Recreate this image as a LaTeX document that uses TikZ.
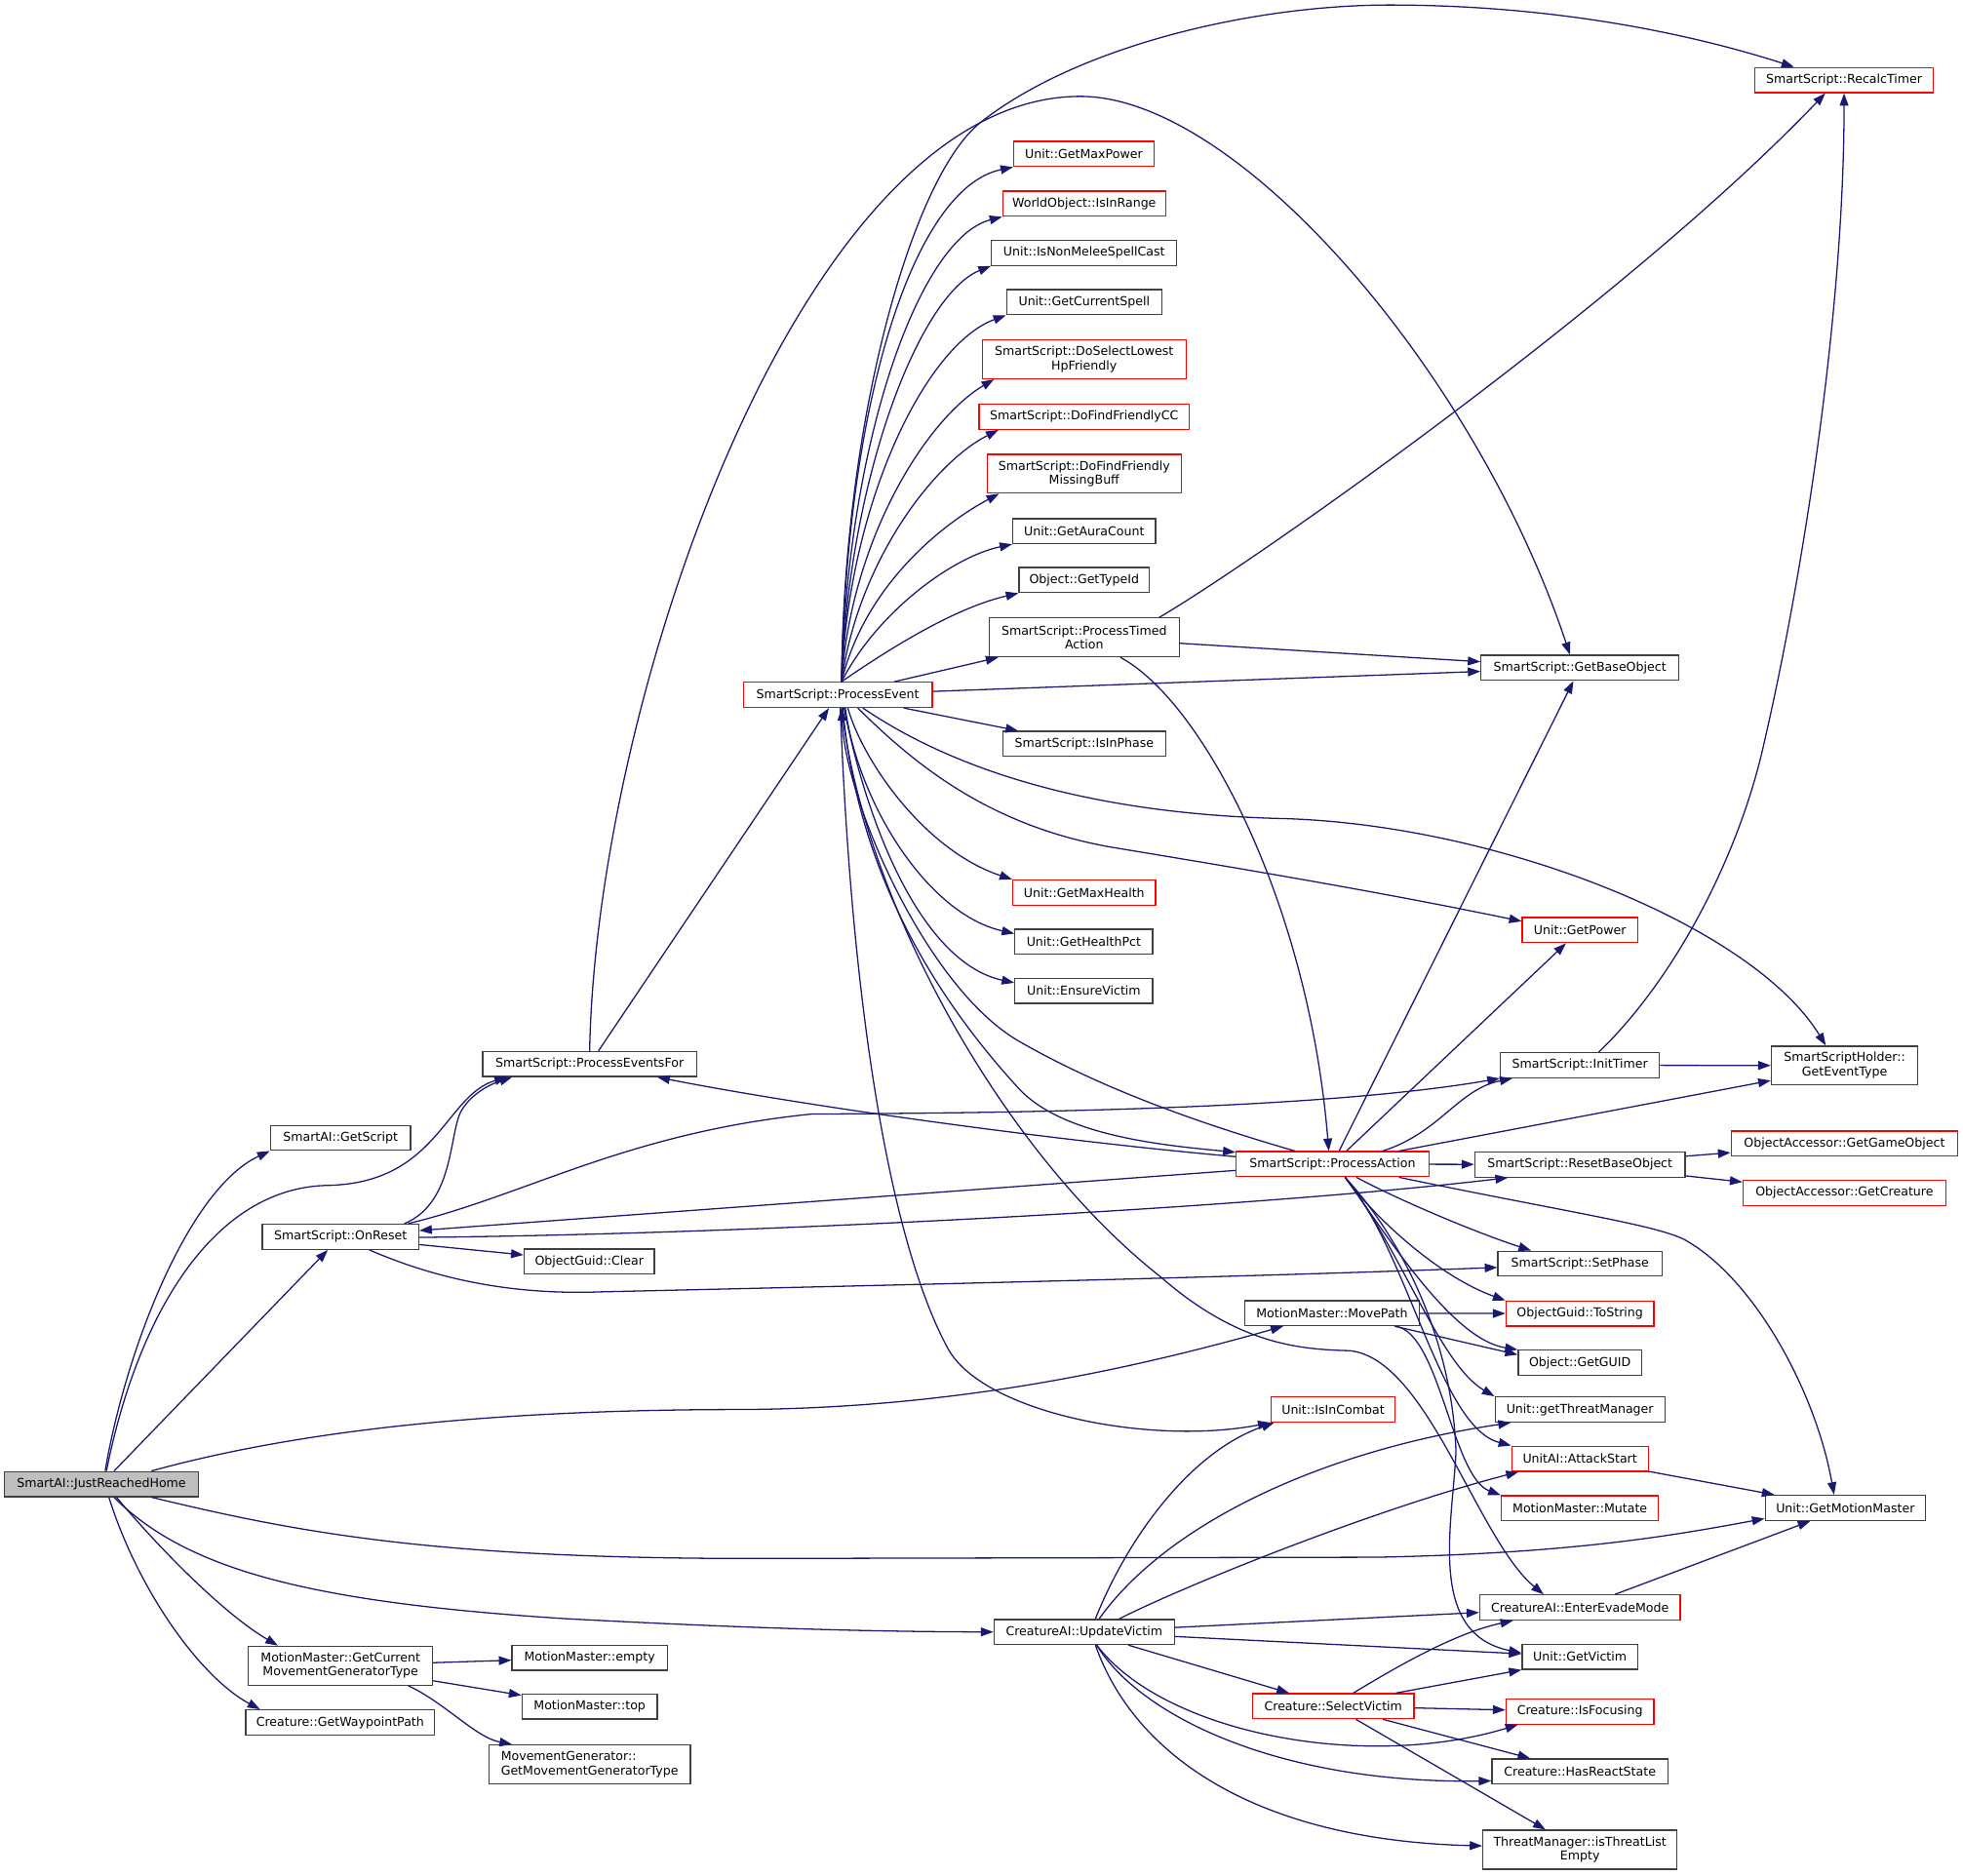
\documentclass[tikz,border=0pt]{standalone}
\usepackage{fontspec}
\setmainfont{DejaVu Sans}
\usetikzlibrary{arrows.meta}

\definecolor{callblue}{HTML}{191970}
\definecolor{rootgray}{HTML}{BFBFBF}

\tikzset{
  fn/.style={draw=black!75, line width=1pt, minimum height=20pt, inner sep=0pt,
    align=center, font=\fontsize{9.8}{11.3}\selectfont},
  fnred/.style={fn, draw=red},
  fnroot/.style={fn, fill=rootgray},
  call/.style={draw=callblue, line width=1pt, -{Triangle[length=10pt,width=7pt]}},
}

\begin{document}
\begin{tikzpicture}[x=1pt, y=-1pt]
    \useasboundingbox (0,0) rectangle (1568,1498);

    % caller and first column
    \node[fnroot, minimum width=155pt] (root) at (81,1185.6) {SmartAI::JustReachedHome};
    \node[fn, minimum width=112pt] (gs) at (272,909) {SmartAI::GetScript};
    \node[fn, minimum width=125pt] (onr) at (272,988) {SmartScript::OnReset};
    \node[fn, minimum width=147pt, minimum height=31pt] (gcm) at (272,1330.6) {MotionMaster::GetCurrent\\MovementGeneratorType};
    \node[fn, minimum width=151pt] (gwp) at (271.7,1376) {Creature::GetWaypointPath};

    % second column
    \node[fn, minimum width=171pt] (pef) at (471,850) {SmartScript::ProcessEventsFor};
    \node[fn, minimum width=104pt] (clr) at (470.7,1007.7) {ObjectGuid::Clear};
    \node[fn, minimum width=124pt] (emp) at (471,1324.3) {MotionMaster::empty};
    \node[fn, minimum width=108pt] (mtop) at (471,1363.2) {MotionMaster::top};
    \node[fn, minimum width=161pt, minimum height=31pt, align=left] (gmgt) at (471,1409.5) {MovementGenerator::\\GetMovementGeneratorType};

    % the event
    \node[fnred, minimum width=151pt] (pe) at (669.2,555.1) {SmartScript::ProcessEvent};

    % fourth column
    \node[fnred, minimum width=112pt] (gmp) at (865.7,123) {Unit::GetMaxPower};
    \node[fnred, minimum width=130pt] (iir) at (866,162.7) {WorldObject::IsInRange};
    \node[fn, minimum width=148pt] (inm) at (866,202) {Unit::IsNonMeleeSpellCast};
    \node[fn, minimum width=124pt] (gcs) at (866,241.4) {Unit::GetCurrentSpell};
    \node[fnred, minimum width=163pt, minimum height=31pt] (dsl) at (866,287) {SmartScript::DoSelectLowest\\HpFriendly};
    \node[fnred, minimum width=168pt] (dfc) at (866,333) {SmartScript::DoFindFriendlyCC};
    \node[fnred, minimum width=155pt, minimum height=31pt] (dfm) at (866,378.4) {SmartScript::DoFindFriendly\\MissingBuff};
    \node[fn, minimum width=114pt] (gac) at (866,424.3) {Unit::GetAuraCount};
    \node[fn, minimum width=104pt] (gti) at (866,463.4) {Object::GetTypeId};
    \node[fn, minimum width=152pt, minimum height=31pt] (pta) at (866,509.2) {SmartScript::ProcessTimed\\Action};
    \node[fn, minimum width=130pt] (iip) at (866,594.3) {SmartScript::IsInPhase};
    \node[fnred, minimum width=114pt] (gmh) at (866,713) {Unit::GetMaxHealth};
    \node[fn, minimum width=110pt] (ghp) at (865.7,752.3) {Unit::GetHealthPct};
    \node[fn, minimum width=110pt] (env) at (865.7,791.6) {Unit::EnsureVictim};
    \node[fn, minimum width=144pt] (uvc) at (866,1303.7) {CreatureAI::UpdateVictim};

    % fifth column
    \node[fnred, minimum width=154pt] (pa) at (1064.4,930) {SmartScript::ProcessAction};
    \node[fn, minimum width=139pt] (mvp) at (1064,1049) {MotionMaster::MovePath};
    \node[fnred, minimum width=99pt] (iic) at (1064.8,1126) {Unit::IsInCombat};
    \node[fnred, minimum width=129pt] (slv) at (1065,1363) {Creature::SelectVictim};

    % sixth column
    \node[fn, minimum width=158pt] (gbo) at (1262,533.5) {SmartScript::GetBaseObject};
    \node[fnred, minimum width=92pt] (gpw) at (1262,743) {Unit::GetPower};
    \node[fn, minimum width=127pt] (itm) at (1262,851) {SmartScript::InitTimer};
    \node[fn, minimum width=168pt] (rbo) at (1262,930.3) {SmartScript::ResetBaseObject};
    \node[fn, minimum width=131pt] (sph) at (1262,1009.5) {SmartScript::SetPhase};
    \node[fnred, minimum width=118pt] (tos) at (1262,1049.4) {ObjectGuid::ToString};
    \node[fn, minimum width=98.5pt] (ggu) at (1262,1088.7) {Object::GetGUID};
    \node[fn, minimum width=135.5pt] (gtm) at (1262,1126) {Unit::getThreatManager};
    \node[fnred, minimum width=109pt] (ast) at (1262,1165.3) {UnitAI::AttackStart};
    \node[fnred, minimum width=125.6pt] (mut) at (1262,1204.9) {MotionMaster::Mutate};
    \node[fnred, minimum width=160pt] (eem) at (1262,1284.2) {CreatureAI::EnterEvadeMode};
    \node[fn, minimum width=92.4pt] (gvi) at (1262,1323.5) {Unit::GetVictim};
    \node[fnred, minimum width=118pt] (ifo) at (1262,1367.3) {Creature::IsFocusing};
    \node[fn, minimum width=140.6pt] (hrs) at (1262,1415.2) {Creature::HasReactState};
    \node[fn, minimum width=155pt, minimum height=31pt] (itl) at (1262,1477.6) {ThreatManager::isThreatList\\Empty};

    % last column
    \node[fnred, minimum width=142.5pt] (rct) at (1473,64) {SmartScript::RecalcTimer};
    \node[fn, minimum width=117pt, minimum height=31pt] (get) at (1473.4,851.2) {SmartScriptHolder::\\GetEventType};
    \node[fnred, minimum width=181pt] (ggo) at (1473.3,913.6) {ObjectAccessor::GetGameObject};
    \node[fnred, minimum width=162pt] (gcr) at (1473.3,953) {ObjectAccessor::GetCreature};
    \node[fn, minimum width=128pt] (gmm) at (1474,1204.6) {Unit::GetMotionMaster};

    % calls of JustReachedHome
    \draw[call] (root) -- (onr);
    \draw[call] ([xshift=3pt]root.north) .. controls (100,1080) and (150,950) .. (gs.south west);
    \draw[call] ([xshift=4pt]root.north) .. controls (110,1050) and (170,950) .. (260,947) .. controls (350,946) and (355,875) .. ([xshift=20pt]pef.south west);
    \draw[call] ([xshift=40pt]root.north) .. controls (230,1145) and (380,1126) .. (592,1126) .. controls (760,1125) and (900,1095) .. ([xshift=31pt]mvp.south west);
    \draw[call] ([xshift=40pt]root.south) .. controls (240,1225) and (350,1245) .. (600,1245) -- (1100,1244) .. controls (1250,1241) and (1330,1228) .. ([yshift=2pt]gmm.south west);
    \draw[call] ([xshift=10pt]root.south) .. controls (150,1255) and (250,1280) .. (450,1293) .. controls (600,1301) and (700,1303.5) .. (uvc.west);
    \draw[call] ([xshift=12pt]root.south) .. controls (130,1240) and (180,1290) .. ([xshift=24pt]gcm.north west);
    \draw[call] ([xshift=6pt]root.south) .. controls (110,1270) and (160,1340) .. ([xshift=12pt]gwp.north west);

    % ProcessEventsFor and OnReset
    \draw[call] (pef) -- (pe);
    \draw[call] (pef.north) .. controls (476,560) and (640,77) .. (863,77) .. controls (990,77) and (1180,300) .. ([xshift=-8pt]gbo.north);
    \draw[call] ([xshift=-12pt]onr.north east) .. controls (365,960) and (358,900) .. (370,885) .. controls (378,873) and (392,866) .. ([xshift=24pt]pef.south west);
    \draw[call] (onr) -- (clr);
    \draw[call] ([yshift=-0.5pt]onr.east) .. controls (600,986) and (1000,965) .. ([xshift=27pt]rbo.south west);
    \draw[call] ([xshift=-9pt]onr.north east) .. controls (420,955) and (500,905) .. (648,890) .. controls (800,889) and (1050,887) .. (itm.south west);
    \draw[call] ([xshift=23pt]onr.south) .. controls (340,1018) and (400,1035) .. (480,1032) .. controls (700,1027) and (1000,1020) .. ([yshift=-3pt]sph.west);

    % ProcessEvent fan
    \foreach \n/\ax/\ay/\bx/\by/\s in {gmp/676/320/730/150/0pt, iir/677/350/735/190/0pt,
        inm/678/380/735/235/0pt, gcs/678/400/740/275/0pt, dsl/680/430/740/335/10pt,
        dfc/685/450/745/370/16pt, dfm/690/470/750/420/10pt, gac/700/490/760/445/0pt,
        gti/715/515/765/485/0pt} {
        \draw[call] ([xshift=3pt]pe.north) .. controls (\ax,\ay) and (\bx,\by) .. ([xshift=\s]\n.south west);
    }
    \draw[call] (pe) -- (pta);
    \draw[call] (pe) -- (iip);
    \draw[call] (pe) -- (gbo);
    \draw[call] ([xshift=3pt]pe.north) .. controls (674,330) and (730,140) .. (783,98) .. controls (860,37) and (1000,4) .. (1110,4) .. controls (1250,4) and (1360,30) .. ([xshift=-40pt]rct.north);
    \draw[call] ([xshift=8pt]pe.south) .. controls (690,610) and (740,680) .. (gmh.north west);
    \draw[call] ([xshift=6pt]pe.south) .. controls (685,640) and (740,730) .. ([yshift=-4pt]ghp.north west);
    \draw[call] ([xshift=5pt]pe.south) .. controls (695,670) and (740,770) .. ([yshift=-4pt]env.north west);
    \draw[call] ([xshift=20pt]pe.south) .. controls (740,600) and (840,650) .. (1028,654) .. controls (1200,660) and (1400,740) .. ([xshift=-15pt]get.north);
    \draw[call] ([xshift=16pt]pe.south) .. controls (730,610) and (790,660) .. (889,677) .. controls (980,692) and (1100,712) .. ([yshift=7pt]gpw.west);
    \draw[call] ([xshift=4pt]pe.south) .. controls (685,700) and (750,800) .. (813.6,869.4) .. controls (848.6,907.6) and (930,915) .. ([yshift=-1pt]pa.north west);
    \draw[call] ([xshift=2pt]pe.south) .. controls (680,800) and (710,990) .. (757,1077) .. controls (785,1129) and (920,1155) .. (iic.south west);
    \draw[call] ([xshift=3pt]pe.south) .. controls (690,720) and (800,920) .. (927,1020) .. controls (990,1075) and (1040,1078) .. (1078,1079) .. controls (1140,1085) and (1180,1230) .. ([xshift=-29pt]eem.north);

    % ProcessTimedAction and InitTimer
    \draw[call] (pta) -- (gbo);
    \draw[call] ([xshift=60pt]pta.north) .. controls (1000,450) and (1300,240) .. ([xshift=-15pt]rct.south);
    \draw[call] ([xshift=29pt]pta.south) .. controls (960,560) and (1045,720) .. ([xshift=-3pt]pa.north);
    \draw[call] (itm) -- (get);
    \draw[call] ([xshift=15pt]itm.north) .. controls (1340,780) and (1390,680) .. (1409,594) .. controls (1440,460) and (1473,250) .. (rct.south);

    % ProcessAction
    \draw[call] ([xshift=-30pt]pa.north) .. controls (960,898) and (880,870) .. (813.6,831.6) .. controls (740,789) and (675,640) .. ([xshift=3pt]pe.south);
    \draw[call] (pa) -- (gbo);
    \draw[call] (pa) -- (gpw);
    \draw[call] (pa) -- (rbo);
    \draw[call] ([xshift=40pt]pa.north) .. controls (1150,905) and (1165,870) .. ([xshift=10pt]itm.south west);
    \draw[call] ([xshift=53pt]pa.north) -- ([yshift=4pt]get.south west);
    \draw[call] ([yshift=6pt]pa.west) .. controls (850,912) and (650,885) .. ([xshift=54pt]pef.south);
    \draw[call] ([yshift=-5pt]pa.west) -- ([yshift=5pt]onr.east);
    \draw[call] ([xshift=19pt]pa.south) .. controls (1120,960) and (1180,985) .. ([xshift=27pt]sph.north west);
    \draw[call] ([xshift=10pt]pa.south) .. controls (1100,975) and (1150,1020) .. (tos.north west);
    \draw[call] ([xshift=10pt]pa.south) .. controls (1110,990) and (1160,1070) .. (ggu.north west);
    \draw[call] ([xshift=10pt]pa.south) .. controls (1120,1000) and (1150,1090) .. (gtm.north west);
    \draw[call] ([xshift=10pt]pa.south) .. controls (1125,1000) and (1150,1140) .. (ast.north west);
    \draw[call] ([xshift=10pt]pa.south) .. controls (1120,990) and (1160,1070) .. (1163,1160) .. controls (1160,1220) and (1140,1305) .. ([yshift=3pt]gvi.west);
    \draw[call] ([xshift=53pt]pa.south) .. controls (1250,968) and (1320,978) .. (1345,990) .. controls (1400,1020) and (1450,1110) .. ([xshift=-9pt]gmm.north);

    % MovePath, ResetBaseObject, AI calls
    \draw[call] (mvp) -- (tos);
    \draw[call] ([xshift=50pt]mvp.south) -- ([yshift=-4pt]ggu.north west);
    \draw[call] ([xshift=51pt]mvp.south) .. controls (1150,1065) and (1160,1180) .. (mut.north west);
    \draw[call] (rbo) -- (ggo);
    \draw[call] (rbo) -- (gcr);
    \draw[call] (ast) -- (gmm);
    \draw[call] (eem) -- (gmm);

    % GetCurrentMovementGeneratorType
    \draw[call] (gcm) -- (emp);
    \draw[call] (gcm) -- (mtop);
    \draw[call] ([xshift=54pt]gcm.south) .. controls (355,1360) and (380,1388) .. ([xshift=19pt]gmgt.north west);

    % UpdateVictim
    \draw[call] ([xshift=9pt]uvc.north) .. controls (900,1230) and (950,1160) .. ([xshift=3pt]iic.south west);
    \draw[call] ([xshift=12pt]uvc.north) .. controls (930,1220) and (1050,1160) .. ([xshift=13pt]gtm.south west);
    \draw[call] ([xshift=28pt]uvc.north) .. controls (950,1265) and (1100,1205) .. ([xshift=6pt]ast.south west);
    \draw[call] (uvc) -- (eem);
    \draw[call] (uvc) -- (gvi);
    \draw[call] (uvc) -- (slv);
    \draw[call] ([xshift=10pt]uvc.south) .. controls (930,1385) and (1090,1415) .. ([xshift=10pt]ifo.south west);
    \draw[call] ([xshift=10pt]uvc.south) .. controls (910,1370) and (1020,1425) .. ([yshift=3pt]hrs.south west);
    \draw[call] ([xshift=9pt]uvc.south) .. controls (905,1400) and (1000,1470) .. ([yshift=3pt]itl.west);

    % SelectVictim
    \draw[call] ([xshift=16pt]slv.north) .. controls (1110,1335) and (1160,1305) .. ([xshift=27pt]eem.south west);
    \draw[call] ([xshift=50pt]slv.north) -- (gvi.south west);
    \draw[call] (slv) -- (ifo);
    \draw[call] (slv) -- (hrs);
    \draw[call] (slv) -- (itl);

\end{tikzpicture}
\end{document}
